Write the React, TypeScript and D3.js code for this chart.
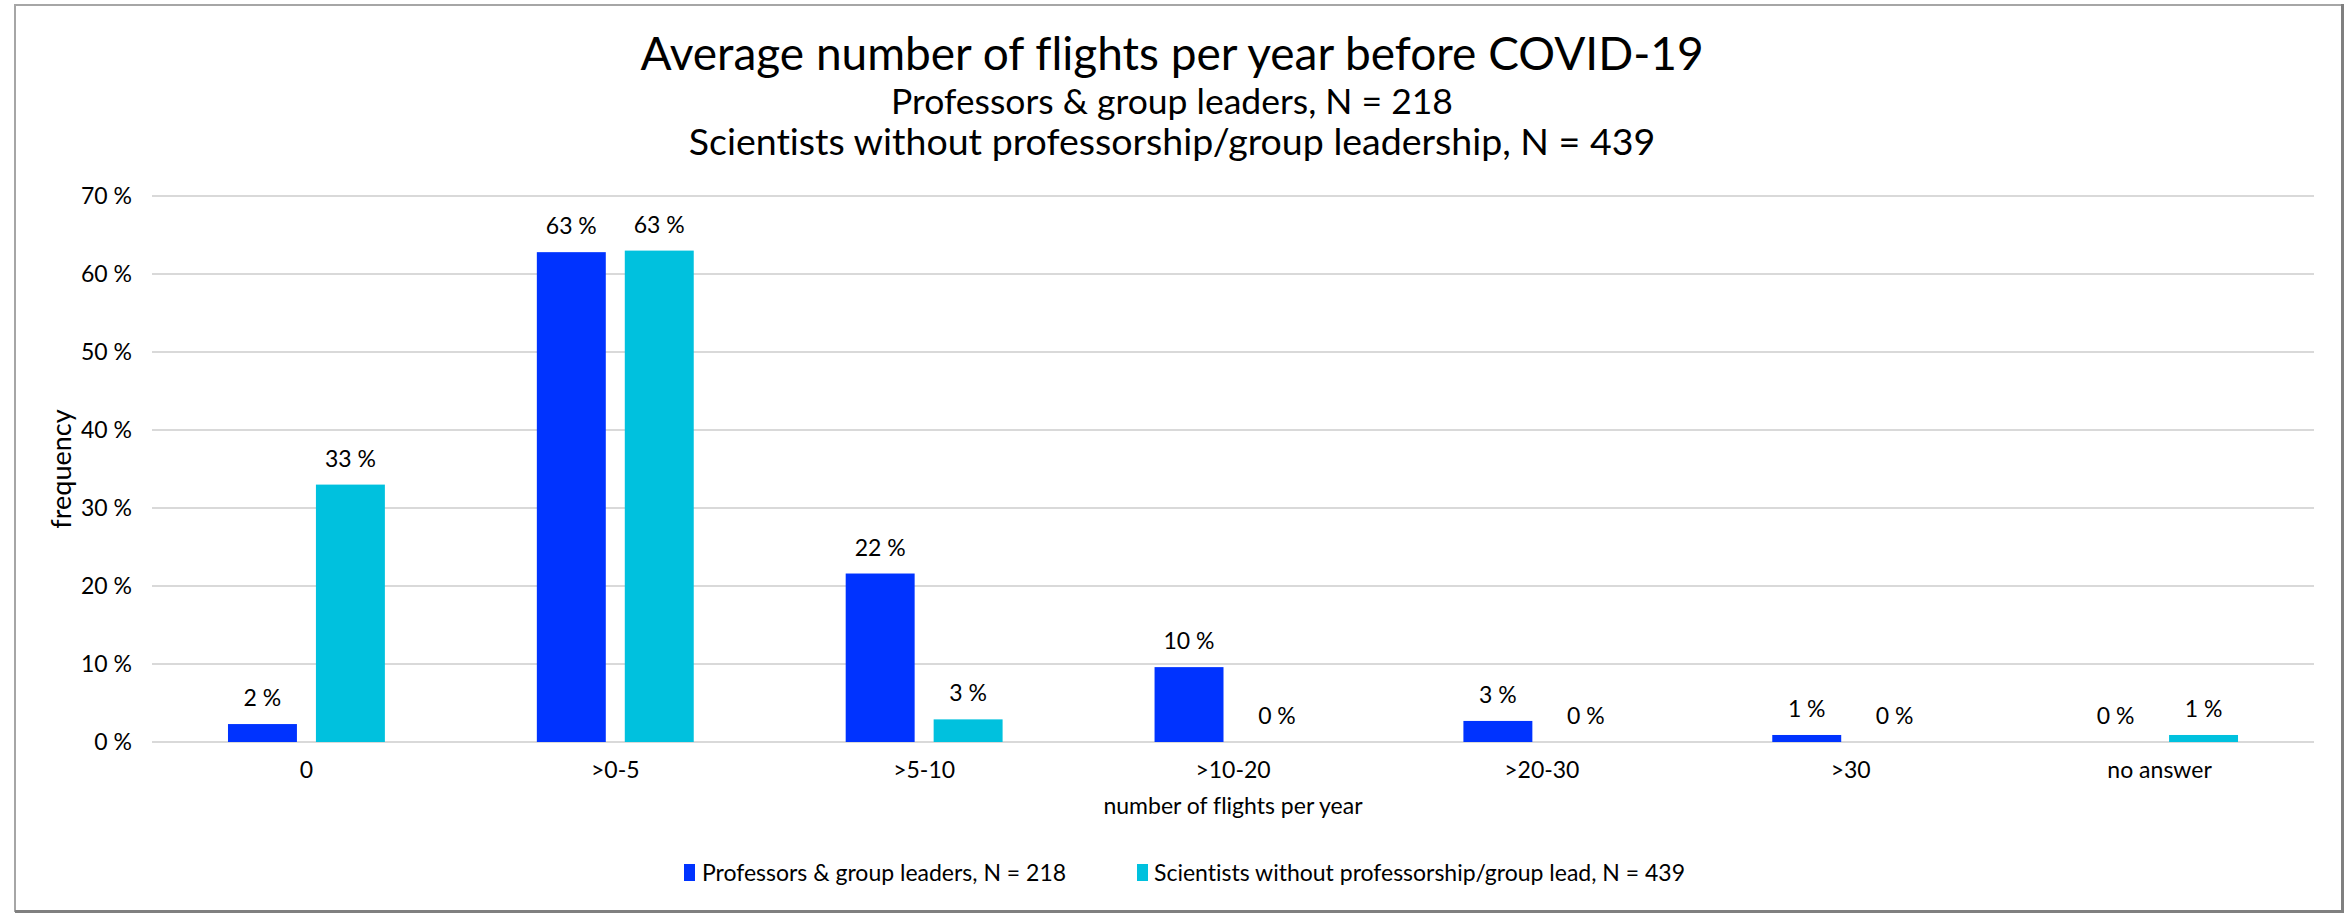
import React from 'react';
import * as d3 from 'd3';

const categories = ['0', '>0-5', '>5-10', '>10-20', '>20-30', '>30', 'no answer'];
const seriesNames = ['Professors & group leaders, N = 218', 'Scientists without professorship/group lead, N = 439'];
const professors = [2.3, 62.8, 21.6, 9.6, 2.7, 0.9, 0];
const scientists = [33.0, 63.0, 2.9, 0, 0, 0, 0.9];
const yTicks = [0, 10, 20, 30, 40, 50, 60, 70];
const colors = ['#0033FF', '#00C1DE'];
const titleLines = [
  'Average number of flights per year before COVID-19',
  'Professors & group leaders, N = 218',
  'Scientists without professorship/group leadership, N = 439',
];
const xAxisTitle = 'number of flights per year';
const yAxisTitle = 'frequency';

const W = 2344;
const H = 915;
const FONT = "Lato, 'Noto Sans', sans-serif";

export default function App() {
  const plot = { left: 152, right: 2314, top: 196, bottom: 742 };
  const x = d3.scaleBand<string>().domain(categories).range([plot.left, plot.right]).paddingInner(0).paddingOuter(0);
  const bw = x.bandwidth();
  const xInner = d3
    .scaleBand<string>()
    .domain(['prof', 'sci'])
    .range([bw * 0.246, bw * 0.754])
    .paddingInner(0.216);
  const y = d3.scaleLinear().domain([0, 70]).range([plot.bottom, plot.top]);
  const fmt = (v: number) => `${Math.round(v)} %`;

  const series = [
    { key: 'prof', values: professors, color: colors[0] },
    { key: 'sci', values: scientists, color: colors[1] },
  ];

  const cx = W / 2;

  return (
    <svg
      width={W}
      height={H}
      style={{ position: 'absolute', left: 0, top: 0, background: '#fff', fontVariantLigatures: 'none' }}
      fontFamily={FONT}
    >
      <rect x={0} y={0} width={W} height={H} fill="#fff" />
      <rect x={15} y={5} width={2327} height={906} fill="none" stroke="#a6a6a6" strokeWidth={2} />
      <line x1={15} x2={2343} y1={911.5} y2={911.5} stroke="#808080" strokeWidth={3} />
      <line x1={2342.5} x2={2342.5} y1={4} y2={913} stroke="#808080" strokeWidth={3} />

      {/* titles */}
      <text x={cx} y={70} textAnchor="middle" fontSize={46} fill="#000">{titleLines[0]}</text>
      <text x={cx} y={114} textAnchor="middle" fontSize={35.5} fill="#000">{titleLines[1]}</text>
      <text x={cx} y={155} textAnchor="middle" fontSize={37.5} fill="#000">{titleLines[2]}</text>

      {/* gridlines */}
      {yTicks.map((t) => (
        <line key={t} x1={plot.left} x2={plot.right} y1={y(t)} y2={y(t)} stroke="#d9d9d9" strokeWidth={2} />
      ))}
      {yTicks.map((t) => (
        <text key={'l' + t} x={132} y={y(t)} dy="0.35em" textAnchor="end" fontSize={23} fill="#000">
          {`${t} %`}
        </text>
      ))}

      {/* bars */}
      {series.map((s) =>
        s.values.map((v, i) => {
          const bx = (x(categories[i]) as number) + (xInner(s.key) as number);
          const by = y(v);
          return (
            <g key={s.key + i}>
              {v > 0 && (
                <rect x={bx} y={by} width={xInner.bandwidth()} height={y(0) - by} fill={s.color} />
              )}
              <text
                x={bx + xInner.bandwidth() / 2}
                y={by - 18}
                textAnchor="middle"
                fontSize={23}
                fill="#000"
              >
                {fmt(v)}
              </text>
            </g>
          );
        })
      )}

      {/* category labels */}
      {categories.map((c) => (
        <text key={c} x={(x(c) as number) + bw / 2} y={778} textAnchor="middle" fontSize={23} fill="#000">
          {c}
        </text>
      ))}

      <text x={(plot.left + plot.right) / 2} y={814} textAnchor="middle" fontSize={23} fill="#000">
        {xAxisTitle}
      </text>
      <text
        transform={`translate(71, ${(plot.top + plot.bottom) / 2}) rotate(-90)`}
        textAnchor="middle"
        fontSize={27}
        fill="#000"
      >
        {yAxisTitle}
      </text>

      {/* legend */}
      <g>
        <rect x={684} y={864} width={11} height={17} fill={colors[0]} />
        <text x={702} y={881} fontSize={23} fill="#000">{seriesNames[0]}</text>
        <rect x={1137} y={864} width={11} height={17} fill={colors[1]} />
        <text x={1154} y={881} fontSize={23} fill="#000">{seriesNames[1]}</text>
      </g>
    </svg>
  );
}
